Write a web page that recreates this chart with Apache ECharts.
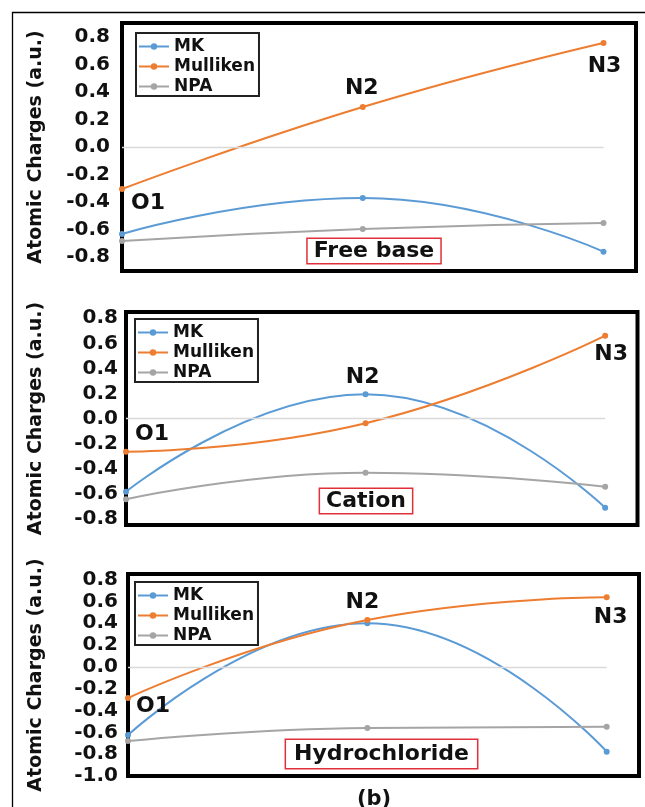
<!DOCTYPE html>
<html><head><meta charset="utf-8">
<script src="https://cdn.jsdelivr.net/npm/echarts@6/dist/echarts.min.js"></script>
<style>html,body{margin:0;padding:0;background:#fff}#c{width:645px;height:807px}</style>
</head><body><div id="c"></div>
<script>
// ---------- data ----------
const atoms = ['O1', 'N2', 'N3'];
const seriesNames = ['MK', 'Mulliken', 'NPA'];
const seriesColors = ['#5B9BD5', '#ED7D31', '#A5A5A5'];

const freeBaseMK       = [-0.631, -0.370, -0.760];
const freeBaseMulliken = [-0.305,  0.290,  0.755];
const freeBaseNPA      = [-0.682, -0.595, -0.552];

const cationMK       = [-0.584,  0.193, -0.712];
const cationMulliken = [-0.265, -0.038,  0.661];
const cationNPA      = [-0.645, -0.433, -0.544];

const hclMK       = [-0.625,  0.398, -0.777];
const hclMulliken = [-0.286,  0.429,  0.636];
const hclNPA      = [-0.680, -0.560, -0.550];

const panelNames = ['Free base', 'Cation', 'Hydrochloride'];
const yTicksTop    = [-0.8, -0.6, -0.4, -0.2, 0.0, 0.2, 0.4, 0.6, 0.8];
const yTicksBottom = [-1.0, -0.8, -0.6, -0.4, -0.2, 0.0, 0.2, 0.4, 0.6, 0.8];
const yTitle = 'Atomic Charges (a.u.)';
const figLabel = '(b)';

// ---------- layout ----------
const FONT = 'DejaVu Sans';
const panels = [
  { grid: {left: 122, right: 9, top: 23, height: 248}, min: -0.9, max: 0.9, ticks: yTicksTop,
    margin: 12, nameGap: 76, data: [freeBaseMK, freeBaseMulliken, freeBaseNPA],
    legend: {left: 136, top: 33}, tag: {x: 374, y: 251, pad: [1, 6, 1, 6]},
    atomLabels: [{s: 1, i: 0, pos: 'right', off: [1, 14]}, {s: 1, i: 1, pos: 'top', off: [-1, 0]}, {s: 1, i: 2, pos: 'bottom', off: [1, 4]}] },
  { grid: {left: 126, right: 7.5, top: 312, height: 213}, min: -0.85, max: 0.85, ticks: yTicksTop,
    margin: 8, nameGap: 80, data: [cationMK, cationMulliken, cationNPA],
    legend: {left: 135, top: 319}, tag: {x: 366, y: 501, pad: [1, 6, 1, 6]},
    atomLabels: [{s: 1, i: 0, pos: 'right', off: [1, -17]}, {s: 0, i: 1, pos: 'top', off: [-3, 2]}, {s: 1, i: 2, pos: 'bottom', off: [6, 0]}] },
  { grid: {left: 128, right: 6, top: 574, height: 202}, min: -1.0, max: 0.85, ticks: yTicksBottom,
    margin: 10, nameGap: 82, data: [hclMK, hclMulliken, hclNPA],
    legend: {left: 135, top: 582}, tag: {x: 381.5, y: 754, pad: [3, 8, 3, 8]},
    atomLabels: [{s: 1, i: 0, pos: 'right', off: [0, 8]}, {s: 1, i: 2, pos: 'bottom', off: [4, 1]}, {s: 1, i: 1, pos: 'top', off: [-5, 1]}] }
];

const grids = [], xAxes = [], yAxes = [], series = [], legends = [], graphics = [];

panels.forEach((p, pi) => {
  grids.push(Object.assign({show: true, borderColor: '#000', borderWidth: 4, backgroundColor: 'transparent'}, p.grid));
  xAxes.push({type: 'value', gridIndex: pi, min: 0, max: 2.135, show: false});
  yAxes.push({
    type: 'value', gridIndex: pi, min: p.min, max: p.max, interval: 0.05,
    name: yTitle, nameLocation: 'middle', nameGap: p.nameGap,
    nameTextStyle: {fontFamily: FONT, fontWeight: 'bold', fontSize: 19, color: '#111'},
    axisLine: {show: false}, axisTick: {show: false}, splitLine: {show: false},
    axisLabel: {
      margin: p.margin, fontFamily: FONT, fontWeight: 'bold', fontSize: 20, color: '#111',
      formatter: v => {
        const t = p.ticks.find(x => Math.abs(x - v) < 1e-6);
        return t === undefined ? '' : (Math.abs(t) < 1e-9 ? '0.0' : t.toFixed(1));
      }
    }
  });
  p.data.forEach((vals, si) => {
    const s = {
      type: 'line', name: seriesNames[si], xAxisIndex: pi, yAxisIndex: pi,
      smooth: 0.5, symbol: 'circle', symbolSize: 6, showSymbol: true,
      color: seriesColors[si], lineStyle: {width: 2, color: seriesColors[si]},
      itemStyle: {color: seriesColors[si]},
      z: 3 + si,
      data: vals.map((v, i) => {
        const item = {value: [i, v]};
        const al = p.atomLabels.find(a => a.s === si && a.i === i);
        if (al) item.label = {show: true, formatter: atoms[i], position: al.pos, offset: al.off, distance: 5,
          fontFamily: FONT, fontWeight: 'bold', fontSize: 22, color: '#111'};
        return item;
      })
    };
    if (si === 2) {
      s.markLine = {silent: true, symbol: ['none', 'none'], label: {show: false},
        lineStyle: {color: '#d9d9d9', width: 1.3, type: 'solid'},
        data: [[{coord: [0, 0]}, {coord: [atoms.length - 1, 0]}]]};
    }
    series.push(s);
  });
  legends.push({
    data: seriesNames, orient: 'vertical', left: p.legend.left, top: p.legend.top,
    padding: [5, 4, 1, 2], itemWidth: 30, itemHeight: 8, itemGap: 3,
    textStyle: {fontFamily: FONT, fontWeight: 'bold', fontSize: 17, color: '#111', lineHeight: 17},
    borderColor: '#222', borderWidth: 2, backgroundColor: '#fff', selectedMode: false
  });
  graphics.push({
    type: 'text', z: 100,
    style: {text: panelNames[pi], x: p.tag.x, y: p.tag.y, align: 'center', verticalAlign: 'middle',
      fontFamily: FONT, fontWeight: 'bold', fontSize: 22, lineHeight: 22, fill: '#111',
      backgroundColor: '#fff', borderColor: '#e0303a', borderWidth: 1.5, padding: p.tag.pad}
  });
});

graphics.push({type: 'rect', z: 0, shape: {x: 12.5, y: 12.5, width: 700, height: 900},
  style: {fill: 'none', stroke: '#000', lineWidth: 1.3}});
graphics.push({type: 'text', z: 100, style: {text: figLabel, x: 374, y: 800, align: 'center', verticalAlign: 'middle',
  fontFamily: FONT, fontWeight: 'bold', fontSize: 21, fill: '#111'}});

const chart = echarts.init(document.getElementById('c'), null, {renderer: 'canvas'});
chart.setOption({
  animation: false,
  backgroundColor: '#fff',
  grid: grids, xAxis: xAxes, yAxis: yAxes, series: series, legend: legends, graphic: graphics
});
</script></body></html>
